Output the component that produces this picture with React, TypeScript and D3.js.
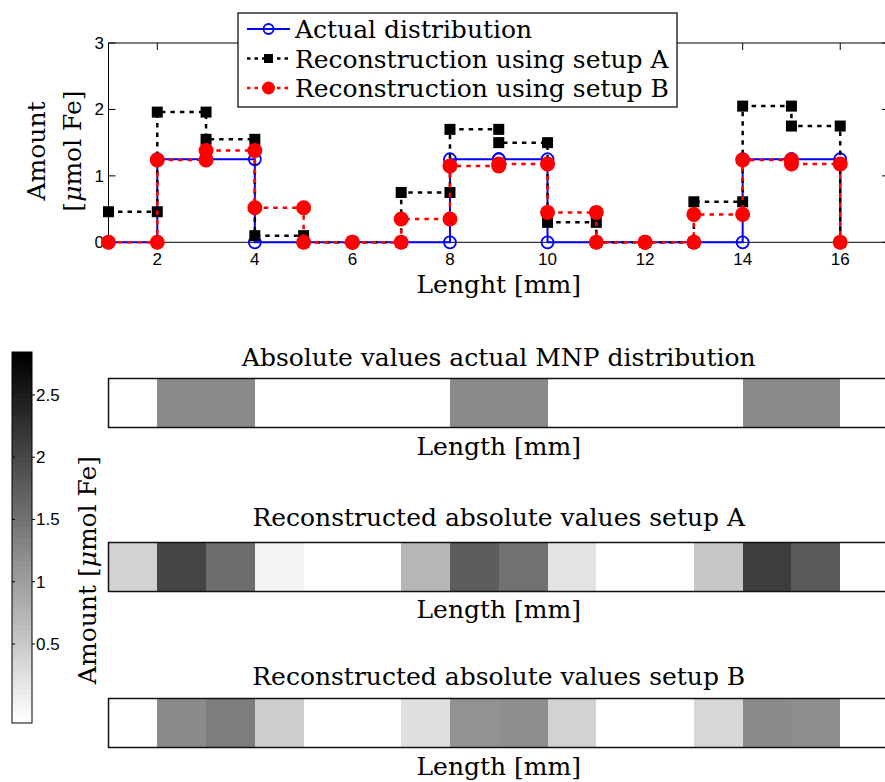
import React from 'react';
import * as d3 from 'd3';

// ---------- data ----------
const positions = [1, 2, 3, 4, 5, 6, 7, 8, 9, 10, 11, 12, 13, 14, 15, 16];
const actual = [0, 1.25, 1.25, 0, 0, 0, 0, 1.25, 1.25, 0, 0, 0, 0, 1.25, 1.25, 0];
const setupA = [0.46, 1.96, 1.55, 0.1, 0, 0, 0.75, 1.7, 1.5, 0.3, 0, 0, 0.61, 2.05, 1.75, 0];
const setupB = [0, 1.24, 1.38, 0.52, 0, 0, 0.35, 1.15, 1.18, 0.45, 0, 0, 0.42, 1.24, 1.18, 0];
const xTicks = [2, 4, 6, 8, 10, 12, 14, 16];
const yTicks = [0, 1, 2, 3];
const cbTicks = [0.5, 1, 1.5, 2, 2.5];
const legendLabels = ['Actual distribution', 'Reconstruction using setup A', 'Reconstruction using setup B'];
const heatTitles = [
  'Absolute values actual MNP distribution',
  'Reconstructed absolute values setup A',
  'Reconstructed absolute values setup B',
];

const W = 885;
const H = 782;
const serif = '"DejaVu Serif"';
const sans = '"Liberation Sans", Arimo, Arial, sans-serif';

const x = d3.scaleLinear().domain([1, 17]).range([108.5, 889]);
const y = d3.scaleLinear().domain([0, 3]).range([242.3, 43]);

const heatNorm = d3.scaleLinear().domain([-0.03, 2.72]).range([0, 1]).clamp(true);
const grayAt = d3.interpolateRgb('#ffffff', '#000000');
const heatColor = (v: number) => {
  const lvl = Math.min(63, Math.floor(heatNorm(v) * 64));
  return grayAt(lvl / 63);
};

const cbScale = d3.scaleLinear().domain([-0.135, 2.845]).range([723, 352]);

function stairVerts(vals: number[]) {
  const pts: [number, number][] = [];
  for (let i = 0; i < vals.length; i++) {
    pts.push([positions[i], vals[i]]);
    if (i < vals.length - 1) pts.push([positions[i + 1], vals[i]]);
  }
  return pts;
}

const lineGen = d3
  .line<[number, number]>()
  .x((d) => x(d[0]))
  .y((d) => y(d[1]));

const series = [
  { vals: actual, color: '#0000ff', dash: undefined as string | undefined, marker: 'o' },
  { vals: setupA, color: '#000000', dash: '4.5,5', marker: 's' },
  { vals: setupB, color: '#ff0000', dash: '4.5,5', marker: 'c' },
];

function Marker({ type, cx, cy, small }: { type: string; cx: number; cy: number; small?: boolean }) {
  if (type === 'o') {
    const r = small ? 5 : 6;
    return <circle cx={cx} cy={cy} r={r} fill="none" stroke="#0000ff" strokeWidth={1.8} />;
  }
  if (type === 's') {
    const s = small ? 9 : 11;
    return <rect x={cx - s / 2} y={cy - s / 2} width={s} height={s} fill="#000" />;
  }
  const r = small ? 6.5 : 7.5;
  return <circle cx={cx} cy={cy} r={r} fill="#ff0000" />;
}

const heatRows = [
  { vals: actual, top: 378.5, bottom: 427.5, titleY: 366, labelY: 455 },
  { vals: setupA, top: 542.5, bottom: 591.5, titleY: 526, labelY: 618 },
  { vals: setupB, top: 698.5, bottom: 747.5, titleY: 685, labelY: 775 },
];

const serifStyle = { fontFamily: serif, fontSize: '25px' } as React.CSSProperties;
const sansStyle = { fontFamily: sans, fontSize: '17px' } as React.CSSProperties;

export default function App() {
  const nBands = 64;
  const cbBottom = cbScale.range()[0];
  const cbTop = cbScale.range()[1];
  const bandH = (cbBottom - cbTop) / nBands;
  const plotL = x.range()[0];
  const plotR = x.range()[1];
  const plotT = y.range()[1];
  const plotB = y.range()[0];
  const midX = (plotL + plotR) / 2;

  return (
    <svg
      width={W}
      height={H}
      style={{ position: 'absolute', left: 0, top: 0, background: '#fff' }}
      xmlns="http://www.w3.org/2000/svg"
    >
      <rect x={0} y={0} width={W} height={H} fill="#fff" />

      {/* ---------- top plot ---------- */}
      <rect x={plotL} y={plotT} width={plotR - plotL} height={plotB - plotT} fill="#fff" stroke="#000" strokeWidth={1} />
      {xTicks.map((t) => (
        <g key={'xt' + t}>
          <line x1={x(t)} x2={x(t)} y1={plotB} y2={plotB - 7} stroke="#000" strokeWidth={1} />
          <line x1={x(t)} x2={x(t)} y1={plotT} y2={plotT + 7} stroke="#000" strokeWidth={1} />
          <text x={x(t)} y={265} textAnchor="middle" style={sansStyle}>
            {t}
          </text>
        </g>
      ))}
      {yTicks.map((t) => (
        <g key={'yt' + t}>
          <line x1={plotL} x2={plotL + 7} y1={y(t)} y2={y(t)} stroke="#000" strokeWidth={1} />
          <line x1={plotR} x2={plotR - 7} y1={y(t)} y2={y(t)} stroke="#000" strokeWidth={1} />
          <text x={104} y={y(t) + 6} textAnchor="end" style={sansStyle}>
            {t}
          </text>
        </g>
      ))}

      {series.map((s, si) => {
        const verts = stairVerts(s.vals);
        return (
          <g key={'s' + si}>
            <path
              d={lineGen(verts) || ''}
              fill="none"
              stroke={s.color}
              strokeWidth={s.dash ? 2.5 : 2}
              strokeDasharray={s.dash}
            />
            {verts.map((p, i) => (
              <Marker key={i} type={s.marker} cx={x(p[0])} cy={y(p[1])} />
            ))}
          </g>
        );
      })}

      <text x={midX} y={293} textAnchor="middle" style={serifStyle}>
        Lenght [mm]
      </text>
      <text transform="translate(45,151) rotate(-90)" textAnchor="middle" style={serifStyle}>
        Amount
      </text>
      <text transform="translate(81,151) rotate(-90)" textAnchor="middle" style={serifStyle}>
        [<tspan fontStyle="italic">μ</tspan>mol Fe]
      </text>

      {/* legend */}
      <rect x={238} y={13} width={439} height={94} fill="#fff" stroke="#000" strokeWidth={1.2} />
      {legendLabels.map((lab, i) => {
        const ly = 29 + i * 29.5;
        const s = series[i];
        return (
          <g key={'lg' + i}>
            <line x1={247} x2={290} y1={ly} y2={ly} stroke={s.color} strokeWidth={s.dash ? 2.5 : 2} strokeDasharray={s.dash ? '3.5,4' : undefined} />
            <Marker type={s.marker} cx={268.5} cy={ly} small />
            <text x={295} y={ly + 9} style={serifStyle}>
              {lab}
            </text>
          </g>
        );
      })}

      {/* ---------- heatmaps ---------- */}
      {heatRows.map((row, ri) => (
        <g key={'h' + ri}>
          <text x={midX} y={row.titleY} textAnchor="middle" style={serifStyle}>
            {heatTitles[ri]}
          </text>
          {row.vals.map((v, i) => (
            <rect
              key={i}
              x={x(positions[i])}
              y={row.top}
              width={x(positions[i] + 1) - x(positions[i]) + 0.6}
              height={row.bottom - row.top}
              fill={heatColor(v)}
              shapeRendering="crispEdges"
            />
          ))}
          <rect x={plotL} y={row.top} width={plotR - plotL} height={row.bottom - row.top} fill="none" stroke="#111" strokeWidth={1.5} />
          <text x={midX} y={row.labelY} textAnchor="middle" style={serifStyle}>
            Length [mm]
          </text>
        </g>
      ))}

      {/* ---------- colorbar ---------- */}
      {d3.range(nBands).map((k) => (
        <rect
          key={'cb' + k}
          x={12}
          y={cbBottom - (k + 1) * bandH}
          width={20}
          height={bandH + 0.6}
          fill={grayAt(k / 63)}
          shapeRendering="crispEdges"
        />
      ))}
      <rect x={12} y={cbTop} width={20} height={cbBottom - cbTop} fill="none" stroke="#000" strokeWidth={1} />
      {cbTicks.map((t) => (
        <g key={'cbt' + t}>
          <line x1={32} x2={35} y1={cbScale(t)} y2={cbScale(t)} stroke="#000" strokeWidth={1} />
          <line x1={12} x2={15} y1={cbScale(t)} y2={cbScale(t)} stroke="#000" strokeWidth={1} />
          <text x={36} y={cbScale(t) + 6} style={sansStyle}>
            {t}
          </text>
        </g>
      ))}
      <text transform="translate(96,570) rotate(-90)" textAnchor="middle" style={serifStyle}>
        Amount [<tspan fontStyle="italic">μ</tspan>mol Fe]
      </text>
    </svg>
  );
}
